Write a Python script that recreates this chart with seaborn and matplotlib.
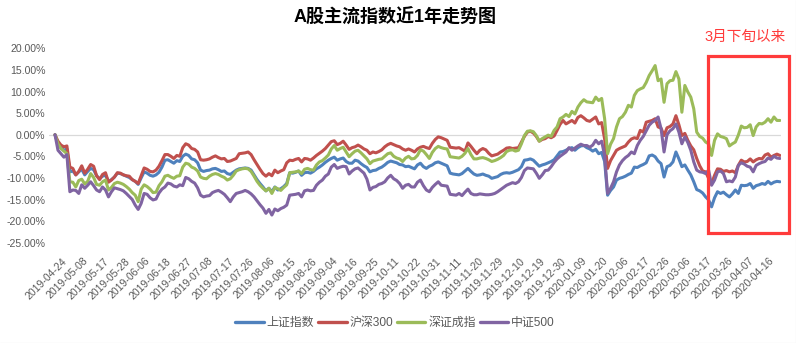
import numpy as np
import pandas as pd
import matplotlib
matplotlib.use("Agg")
import matplotlib.pyplot as plt
import seaborn as sns
from matplotlib.patches import Rectangle
from matplotlib.lines import Line2D
from matplotlib.transforms import ScaledTranslation

# ---------------- data ----------------
title = "A股主流指数近1年走势图"
note = "3月下旬以来"
names = ["上证指数", "沪深300", "深证成指", "中证500"]
colors = ["#4F81BD", "#C0504D", "#9BBB59", "#8064A2"]

# trading calendar (A-share trading days, 2019-04-24 .. 2020-04-24)
holidays = ["2019-05-01", "2019-05-02", "2019-05-03", "2019-06-07", "2019-09-13",
            "2019-10-01", "2019-10-02", "2019-10-03", "2019-10-04", "2019-10-07",
            "2020-01-01", "2020-01-24", "2020-01-27", "2020-01-28", "2020-01-29",
            "2020-01-30", "2020-01-31", "2020-04-06"]
dates = [d.strftime("%Y-%m-%d") for d in pd.bdate_range("2019-04-24", "2020-04-24")
         if d.strftime("%Y-%m-%d") not in holidays]

tick_labels = ["2019-04-24", "2019-05-08", "2019-05-17", "2019-05-28", "2019-06-06",
               "2019-06-18", "2019-06-27", "2019-07-08", "2019-07-17", "2019-07-26",
               "2019-08-06", "2019-08-15", "2019-08-26", "2019-09-04", "2019-09-16",
               "2019-09-25", "2019-10-11", "2019-10-22", "2019-10-31", "2019-11-11",
               "2019-11-20", "2019-11-29", "2019-12-10", "2019-12-19", "2019-12-30",
               "2020-01-09", "2020-01-20", "2020-02-06", "2020-02-17", "2020-02-26",
               "2020-03-06", "2020-03-17", "2020-03-26", "2020-04-07", "2020-04-16"]
y_ticks = [-25, -20, -15, -10, -5, 0, 5, 10, 15, 20]

# cumulative change (%) since 2019-04-24
sh_composite = [
    0, -2.0, -3.0, -3.6, -3.3, -8.6, -8.4, -9.3, -8.6, -8.0,
    -9.3, -8.5, -7.8, -8.1, -9.5, -10.2, -9.6, -9.4, -10.8, -10.4,
    -9.8, -8.9, -9.0, -9.3, -9.6, -9.9, -10.4, -10.8, -11.5, -10.0,
    -8.6, -8.9, -9.4, -9.6, -9.3, -8.7, -7.5, -5.9, -5.8, -6.2,
    -6.6, -6.0, -6.2, -5.0, -4.5, -4.8, -5.6, -5.8, -6.5, -8.2,
    -8.5, -8.3, -8.2, -7.9, -7.8, -8.1, -8.5, -8.4, -9.0, -9.2,
    -8.7, -8.2, -7.9, -7.8, -7.7, -7.8, -8.2, -9.3, -10.4, -11.3,
    -12.1, -13.0, -12.4, -13.2, -12.1, -12.8, -12.5, -12.0, -11.3, -8.8,
    -8.9, -8.7, -8.4, -9.4, -8.8, -8.7, -8.9, -8.5, -7.9, -7.5,
    -7.0, -6.4, -5.9, -5.5, -5.2, -5.9, -5.6, -5.4, -6.2, -6.6,
    -6.6, -5.9, -6.1, -6.7, -7.2, -7.6, -8.6, -8.3, -8.2, -7.8,
    -7.5, -7.0, -6.4, -6.1, -6.3, -6.5, -6.9, -7.0, -7.4, -7.3,
    -7.6, -7.9, -7.0, -6.6, -7.4, -7.8, -7.3, -7.0, -6.5, -6.3,
    -6.6, -6.9, -7.2, -8.9, -9.1, -9.2, -9.3, -9.0, -8.4, -7.8,
    -8.5, -9.1, -9.4, -9.3, -9.1, -9.4, -9.6, -10.1, -9.9, -9.7,
    -9.2, -8.9, -8.8, -8.9, -8.7, -8.4, -8.1, -7.4, -5.9, -5.8,
    -5.6, -5.9, -6.6, -7.3, -7.0, -6.8, -6.5, -6.2, -5.8, -4.9,
    -4.0, -3.9, -3.6, -3.2, -3.0, -3.6, -3.0, -2.6, -2.5, -3.0,
    -3.3, -3.8, -3.4, -4.4, -4.1, -6.2, -14.0, -12.9, -12.1, -10.5,
    -10.1, -9.9, -9.6, -9.2, -8.9, -7.5, -7.6, -7.2, -6.9, -6.5,
    -4.9, -4.7, -5.1, -6.1, -6.7, -9.8, -7.4, -7.1, -6.3, -4.0,
    -5.6, -7.4, -7.0, -8.2, -9.3, -10.9, -12.7, -13.0, -13.5, -14.4,
    -15.1, -16.7, -14.6, -13.2, -13.6, -13.3, -13.9, -14.4, -13.7, -12.8,
    -13.6, -11.7, -11.8, -11.7, -11.3, -12.4, -11.8, -11.6, -11.3, -11.5,
    -10.8, -11.4, -11.0, -10.8, -10.9]

hs300 = [
    0, -1.5, -2.4, -2.8, -2.6, -7.5, -7.8, -9.3, -8.5, -7.2,
    -8.9, -8.0, -6.9, -7.3, -9.5, -10.4, -9.2, -8.8, -11.0, -10.5,
    -9.8, -8.8, -8.9, -9.3, -9.5, -9.6, -10.4, -10.8, -11.3, -9.5,
    -7.7, -8.0, -8.5, -8.6, -8.2, -7.3, -6.0, -4.6, -4.6, -5.0,
    -5.5, -4.8, -5.0, -3.0, -2.1, -2.4, -3.2, -3.4, -4.0, -5.8,
    -5.9, -5.8, -5.6, -5.2, -4.9, -5.3, -5.6, -5.5, -6.2, -6.1,
    -5.8, -5.5, -4.4, -4.3, -4.2, -4.0, -4.6, -5.8, -6.9, -8.0,
    -9.0, -9.6, -9.0, -9.5, -8.2, -8.8, -8.4, -8.1, -6.5, -5.9,
    -6.0, -5.7, -5.5, -6.3, -5.5, -5.6, -5.9, -5.4, -4.8, -4.3,
    -3.8, -3.2, -2.4, -1.6, -1.4, -2.3, -2.0, -1.5, -2.4, -3.4,
    -3.0, -2.8, -2.4, -2.8, -3.3, -3.6, -4.4, -4.0, -4.2, -3.9,
    -3.5, -2.8, -2.3, -2.0, -2.3, -2.6, -2.8, -3.3, -3.6, -3.3,
    -3.6, -4.0, -3.3, -2.9, -2.7, -3.0, -3.2, -2.0, -1.1, -0.5,
    -0.7, -1.0, -1.3, -2.9, -3.0, -3.1, -3.0, -3.4, -3.8, -1.9,
    -2.7, -3.6, -4.4, -3.6, -3.2, -3.5, -4.3, -4.9, -4.7, -4.5,
    -4.0, -3.6, -3.1, -3.0, -3.2, -3.1, -3.0, -1.7, -0.4, 0.6,
    0.8, 0.4, -0.4, -1.5, -1.1, -0.9, -0.4, -0.7, -0.3, 1.0,
    2.4, 3.3, 2.5, 2.9, 3.3, 2.7, 4.0, 4.4, 3.9, 3.3,
    3.1, 3.6, 4.1, 2.5, 2.8, -1.0, -7.8, -6.0, -4.8, -3.6,
    -3.2, -2.9, -2.6, -1.7, -1.0, -0.7, -0.9, 1.0, 0.6, 2.9,
    3.1, 3.3, 3.7, 1.8, 1.5, -0.2, 1.6, 1.9, 2.5, 4.4,
    2.3, -0.2, 0.3, -1.3, -2.6, -3.5, -5.5, -7.2, -8.4, -8.6,
    -10.1, -11.3, -9.4, -7.9, -8.0, -8.5, -8.3, -8.6, -8.4, -8.8,
    -7.1, -5.9, -6.3, -6.2, -5.6, -6.3, -5.8, -5.5, -5.6, -4.7,
    -4.4, -5.2, -4.8, -4.5, -4.8]

sz_component = [
    0, -2.1, -3.2, -3.8, -4.4, -10.9, -11.0, -12.1, -10.6, -10.3,
    -11.4, -10.8, -9.0, -9.9, -11.5, -11.7, -10.9, -10.5, -12.8, -12.2,
    -11.3, -11.0, -11.2, -11.5, -12.0, -12.6, -13.4, -14.0, -15.5, -12.6,
    -11.6, -12.0, -12.6, -13.4, -13.3, -11.8, -10.9, -9.6, -9.4, -9.8,
    -10.1, -9.6, -9.5, -7.5, -6.6, -6.8, -7.5, -7.8, -8.4, -9.8,
    -10.1, -10.2, -9.6, -9.2, -9.0, -9.2, -9.6, -9.9, -10.5, -10.2,
    -9.4, -8.4, -8.1, -7.9, -7.8, -7.9, -8.5, -9.6, -10.8, -11.7,
    -12.4, -13.0, -12.4, -13.6, -12.2, -12.5, -12.9, -12.2, -11.6, -8.8,
    -8.7, -8.6, -8.4, -9.0, -8.0, -7.8, -8.1, -8.2, -7.0, -6.3,
    -6.0, -5.4, -4.7, -3.3, -2.5, -3.6, -3.2, -2.9, -4.0, -5.1,
    -4.4, -3.8, -3.6, -4.2, -4.9, -5.6, -6.7, -6.1, -5.9, -5.7,
    -5.6, -5.0, -4.4, -4.2, -5.0, -5.4, -5.6, -6.2, -5.4, -5.0,
    -5.6, -5.5, -4.8, -3.5, -3.8, -4.6, -5.5, -4.1, -3.2, -2.7,
    -3.0, -3.2, -3.3, -5.1, -5.2, -5.3, -5.4, -5.0, -4.3, -3.2,
    -4.6, -5.6, -5.6, -5.4, -5.3, -5.5, -5.8, -6.2, -6.0, -5.7,
    -5.3, -4.8, -3.9, -3.6, -3.5, -3.8, -3.6, -2.1, -0.2, 0.8,
    0.9, 0.7, -0.2, -1.5, -0.9, -0.5, -0.1, -0.4, 1.0, 1.8,
    3.7, 4.1, 4.7, 4.2, 5.4, 4.8, 6.4, 7.4, 8.1, 7.6,
    7.5, 7.4, 8.7, 7.9, 8.4, 3.7, -4.4, -2.2, -0.9, 1.8,
    3.7, 4.2, 5.2, 6.8, 6.4, 9.1, 10.2, 10.6, 10.9, 12.1,
    13.7, 14.8, 16.0, 12.5, 12.9, 7.5, 11.8, 12.5, 12.6, 14.6,
    12.9, 5.2, 11.4, 9.9, 8.7, 6.0, 0.6, -0.4, -0.8, -1.7,
    -2.1, -4.8, -1.3, 0.2, -0.4, -0.6, -0.9, -2.6, -2.1, -1.7,
    -0.1, 2.0, 1.6, 1.7, 2.3, -0.2, 1.8, 2.6, 2.5, 2.9,
    3.7, 2.9, 4.1, 3.3, 3.3]

csi500 = [
    0, -3.6, -4.4, -5.2, -4.6, -13.2, -12.8, -12.9, -13.6, -11.6,
    -12.4, -11.7, -10.9, -11.8, -12.8, -13.2, -12.1, -12.8, -14.4, -13.2,
    -12.3, -12.5, -12.7, -13.0, -13.6, -14.3, -15.0, -16.3, -17.3, -15.9,
    -13.6, -13.8, -14.6, -15.1, -14.9, -13.5, -12.6, -12.1, -11.2, -11.4,
    -11.9, -12.1, -11.6, -11.8, -9.9, -10.2, -10.8, -11.2, -12.3, -14.0,
    -14.4, -14.2, -14.1, -13.4, -13.1, -12.9, -13.3, -13.8, -14.6, -15.5,
    -14.4, -13.6, -13.4, -13.2, -12.9, -13.2, -13.7, -14.4, -15.3, -16.2,
    -17.0, -18.2, -17.3, -18.6, -17.2, -17.6, -17.1, -16.8, -16.3, -14.0,
    -13.9, -13.8, -13.6, -14.4, -13.0, -12.8, -13.0, -12.9, -11.7, -11.0,
    -10.5, -9.6, -9.1, -7.5, -6.9, -7.8, -7.5, -7.3, -7.4, -9.1,
    -8.4, -7.9, -7.7, -8.3, -8.9, -10.3, -12.8, -12.2, -12.0, -11.5,
    -11.3, -10.9, -10.0, -9.4, -10.2, -10.6, -11.3, -12.4, -11.7, -11.5,
    -12.1, -12.1, -11.0, -10.5, -11.8, -12.8, -13.2, -12.2, -11.5, -10.9,
    -11.7, -11.8, -11.9, -13.8, -13.9, -14.0, -13.6, -14.1, -13.3, -12.6,
    -13.6, -13.9, -13.9, -13.7, -13.8, -13.9, -13.9, -13.8, -13.6, -13.2,
    -12.7, -12.2, -11.7, -11.4, -11.1, -11.3, -10.9, -9.9, -8.3, -7.7,
    -7.8, -7.9, -8.9, -10.1, -9.3, -8.3, -8.2, -7.4, -6.4, -5.6,
    -5.0, -4.5, -4.0, -3.0, -3.6, -3.1, -2.6, -2.2, -2.5, -2.5,
    -2.9, -2.4, -1.3, -2.1, -1.5, -4.8, -13.6, -12.4, -10.9, -8.6,
    -7.0, -6.0, -5.3, -4.8, -4.0, -4.4, -2.5, -1.3, -0.4, 0.9,
    2.2, 2.9, 3.3, 4.1, 1.4, -4.0, 0.0, 0.9, 1.4, 2.5,
    0.6, -2.1, -0.5, -1.8, -3.6, -6.3, -8.2, -8.6, -8.7, -9.0,
    -8.2, -11.7, -10.5, -8.6, -8.4, -9.0, -10.9, -10.7, -10.9, -9.8,
    -7.1, -6.5, -6.8, -7.3, -7.5, -8.6, -7.1, -6.7, -6.4, -6.2,
    -5.4, -5.7, -5.0, -5.4, -5.5]

# highlighted period (annotation box), in trading-day positions / %
box_x0, box_x1 = 219.8, 247.1
box_y0, box_y1 = -22.7, 18.2

# ---------------- plot ----------------
sns.set_theme(style="white")
plt.rcParams["font.family"] = ["Liberation Sans", "Noto Sans CJK SC", "DejaVu Sans"]

series = [sh_composite, hs300, sz_component, csi500]
df = pd.DataFrame({
    "date": dates * len(names),
    "name": np.repeat(names, len(dates)),
    "value": np.concatenate([np.asarray(s, dtype=float) for s in series]),
})

W, H = 796, 343
fig = plt.figure(figsize=(W / 100, H / 100), dpi=100)
ax_l, ax_r, ax_t, ax_b = 49.06, 781.1, 48.3, 242.7
ax = fig.add_axes([ax_l / W, 1 - ax_b / H, (ax_r - ax_l) / W, (ax_b - ax_t) / H])

ax.axhline(0, color="#D9D9D9", lw=0.9, zorder=0.5)
sns.lineplot(data=df, x="date", y="value", hue="name", hue_order=names,
             palette=colors, sort=False, estimator=None, errorbar=None,
             linewidth=2.2, ax=ax, legend=True,
             solid_joinstyle="round", solid_capstyle="round")

leg = ax.get_legend()
handles = leg.legend_handles
labels = [t.get_text() for t in leg.get_texts()]
leg.remove()
for h in handles:
    h.set_linewidth(2.4)

ax.set_xlim(-2, 244.4)
ax.set_ylim(-25, 20)
ax.set_yticks(y_ticks)
ax.set_yticklabels([f"{v:.2f}%" for v in y_ticks])
ax.set_xticks(tick_labels)
ax.set_xticklabels(tick_labels)
ax.set_xlabel("")
ax.set_ylabel("")
for s in ax.spines.values():
    s.set_visible(False)
ax.grid(False)

ax.tick_params(axis="y", length=0, pad=2.5, labelsize=7.6, labelcolor="#595959")
ax.tick_params(axis="x", length=0, pad=9.5, labelsize=7.6, labelcolor="#595959")
offset = ScaledTranslation(7 / 100, 0, fig.dpi_scale_trans)
for lbl in ax.get_xticklabels():
    lbl.set_rotation(45)
    lbl.set_ha("right")
    lbl.set_va("top")
    lbl.set_rotation_mode("anchor")
    lbl.set_transform(lbl.get_transform() + offset)

# annotation box
ax.add_patch(Rectangle((box_x0, box_y0), box_x1 - box_x0, box_y1 - box_y0,
                       fill=False, ec="#FF3B3B", lw=2.3, clip_on=False, zorder=5))

fig.text(395 / W, 1 - 18 / H, title, ha="center", va="center",
         fontsize=13, fontweight="bold", color="#000000")
fig.text(745.5 / W, 1 - 37 / H, note, ha="center", va="center",
         fontsize=10.5, color="#FF3B3B")

fig.legend(handles, labels, loc="center", bbox_to_anchor=(395 / W, 1 - 323 / H),
           ncol=4, frameon=False, fontsize=8.6, handlelength=2.4, handletextpad=0.25,
           columnspacing=0.3, labelcolor="#595959")

# chart frame (right and bottom edges visible)
fig.add_artist(Line2D([795.5 / W, 795.5 / W], [0, 1], transform=fig.transFigure,
                      color="#D9D9D9", lw=0.8))
fig.add_artist(Line2D([0, 1], [0.5 / H, 0.5 / H], transform=fig.transFigure,
                      color="#D9D9D9", lw=0.8))

fig.savefig("out.png", dpi=100)
